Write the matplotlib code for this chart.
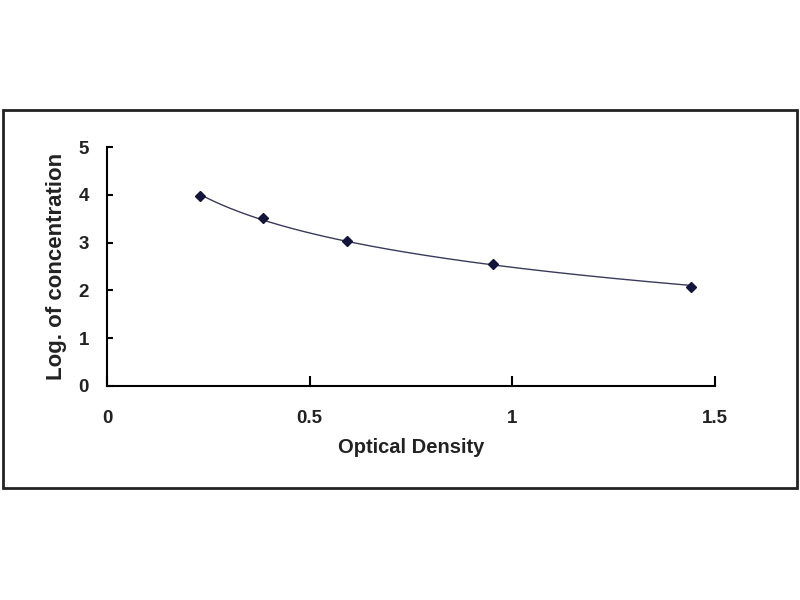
import numpy as np
import matplotlib.pyplot as plt
from matplotlib.patches import Rectangle

# standard curve points
optical_density = [0.229, 0.384, 0.591, 0.953, 1.44]
log_conc = [3.98, 3.51, 3.03, 2.55, 2.08]

plt.rcParams['font.family'] = ['Liberation Sans', 'DejaVu Sans']

fig = plt.figure(figsize=(8, 6), dpi=100)
fig.patches.append(Rectangle((3 / 800, 1 - 488 / 600), 794 / 800, 378 / 600,
                             transform=fig.transFigure, fill=False,
                             edgecolor='#222222', linewidth=2))

ax = fig.add_axes([107 / 800, 1 - 386 / 600, 608 / 800, 239 / 600])

# logarithmic trendline through the points
coef = np.polyfit(np.log(optical_density), log_conc, 1)
xs = np.linspace(min(optical_density), max(optical_density), 200)
ax.plot(xs, np.polyval(coef, np.log(xs)), color='#3a3a5a', linewidth=1)
ax.plot(optical_density, log_conc, linestyle='none', marker='D', markersize=5,
        color='#14143c')

ax.set_xlim(0, 1.5)
ax.set_ylim(0, 5)
ax.set_xticks([0, 0.5, 1, 1.5])
ax.set_xticklabels(['0', '0.5', '1', '1.5'])
ax.set_yticks([0, 1, 2, 3, 4, 5])
for s in ['top', 'right']:
    ax.spines[s].set_visible(False)
for s in ['left', 'bottom']:
    ax.spines[s].set_linewidth(1.5)
ax.tick_params(axis='x', direction='in', length=7, width=1.5, pad=17, labelsize=13.5)
ax.tick_params(axis='y', direction='in', length=4, width=1.5, pad=13, labelsize=13.5)
for lab in ax.get_xticklabels() + ax.get_yticklabels():
    lab.set_fontweight('bold')
    lab.set_color('#222222')

ax.set_xlabel('Optical Density', fontsize=14.5, fontweight='bold', labelpad=8,
              color='#222222')
ax.set_ylabel('Log. of concentration', fontsize=16, fontweight='bold', labelpad=8,
              color='#222222')

fig.savefig('out.png', dpi=100)
